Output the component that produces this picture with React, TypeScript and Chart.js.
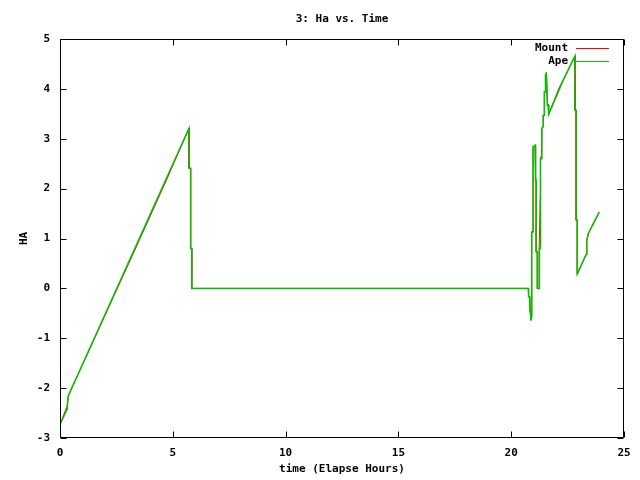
import React, { useEffect, useRef } from "react";
import { Chart, registerables } from "chart.js";

Chart.register(...registerables);

const TITLE = "3: Ha vs. Time";
const X_TITLE = "time (Elapse Hours)";
const Y_TITLE = "HA";
const SERIES_LABELS = ["Mount", "Ape"];
const SERIES_COLORS = ["#ff0000", "#00c000"];

const apeTime = [
  0, 0.3, 0.37, 2.78, 5.72, 5.72, 5.79, 5.79, 5.84, 5.84, 20.76, 20.77, 20.82, 20.83, 20.86, 20.87, 20.91,
  20.91, 20.97, 20.97, 21.06, 21.08, 21.08, 21.11, 21.11, 21.16, 21.16, 21.25, 21.25, 21.3, 21.3, 21.36, 21.36,
  21.42, 21.42, 21.47, 21.47, 21.52, 21.52, 21.56, 21.6, 21.64, 21.66, 22.31, 22.83, 22.83,
  22.88, 22.88, 22.93, 22.93, 23.32, 23.35, 23.42, 23.9,
];
const apeHA = [
  -2.73, -2.44, -2.15, 0.26, 3.21, 2.41, 2.41, 0.8, 0.8, 0, 0, -0.17, -0.17, -0.44, -0.5, -0.64, -0.55,
  1.13, 1.13, 2.84, 2.87, 2.87, 2.17, 2.17, 0.73, 0.73, 0, 0, 0.8, 0.8, 2.6, 2.6, 3.2,
  3.24, 3.47, 3.47, 3.94, 3.94, 4.28, 4.3, 3.67, 3.67, 3.49, 4.18, 4.66, 3.57,
  3.57, 1.37, 1.37, 0.29, 0.68, 0.96, 1.1, 1.53,
];

const mountTime = [
  0, 0.28, 0.3, 0.37, 3.3, 4.7, 5.72, 5.72, 5.79, 5.79, 5.84, 5.84, 20.76, 20.77, 20.82, 20.84, 20.86,
  20.87, 20.91, 20.91, 20.97, 20.97, 21.06, 21.08, 21.08, 21.11, 21.11, 21.16, 21.16, 21.24, 21.24,
  21.29, 21.29, 21.3, 21.34, 21.34, 21.36, 21.42, 21.42, 21.47, 21.47, 21.52, 21.52, 21.56, 21.61,
  21.64, 21.66, 22.12, 22.31, 22.83, 22.83, 22.88, 22.88, 22.93, 22.93, 23.32, 23.35, 23.42, 23.9,
];
const mountHA = [
  -2.73, -2.4, -2.44, -2.15, 0.75, 2.15, 3.21, 2.41, 2.41, 0.8, 0.8, 0, 0, -0.17, -0.17, -0.44, -0.5,
  -0.64, -0.55, 1.13, 1.13, 2.84, 2.87, 2.87, 2.17, 2.17, 0.73, 0.73, 0, 0, 0.82,
  1.87, 2.34, 2.6, 2.67, 3.2, 3.22, 3.24, 3.47, 3.47, 3.94, 3.94, 4.28, 4.33, 3.69,
  3.69, 3.49, 4.02, 4.18, 4.66, 3.57, 3.57, 1.37, 1.37, 0.29, 0.68, 0.96, 1.1, 1.53,
];

const X_MIN = 0;
const X_MAX = 25;
const X_STEP = 5;
const Y_MIN = -3;
const Y_MAX = 5;
const Y_STEP = 1;

const FONT_FAMILY = "'DejaVu Sans Mono', 'Liberation Mono', monospace";
const FONT = { family: FONT_FAMILY, size: 11, weight: "bold" as const };

const frameplugin = {
  id: "gnuplotFrame",
  afterDraw(chart: any) {
    const { ctx, chartArea } = chart;
    const { left, right, top, bottom } = chartArea;
    const xs = chart.scales.x;
    const ys = chart.scales.y;
    ctx.save();
    ctx.strokeStyle = "#000";
    ctx.lineWidth = 1;
    const L = Math.round(left) + 0.5;
    const R = Math.round(right) - 0.5;
    const T = Math.round(top) + 0.5;
    const B = Math.round(bottom) - 0.5;
    ctx.beginPath();
    ctx.rect(L, T, R - L, B - T);
    const tl = 6;
    xs.ticks.forEach((t: any) => {
      const px = Math.round(xs.getPixelForValue(t.value)) + 0.5;
      ctx.moveTo(px, B);
      ctx.lineTo(px, B - tl);
      ctx.moveTo(px, T);
      ctx.lineTo(px, T + tl);
    });
    ys.ticks.forEach((t: any) => {
      const py = Math.round(ys.getPixelForValue(t.value)) + 0.5;
      ctx.moveTo(L, py);
      ctx.lineTo(L + tl, py);
      ctx.moveTo(R, py);
      ctx.lineTo(R - tl, py);
    });
    ctx.stroke();

    // title
    ctx.fillStyle = "#000";
    ctx.font = `bold 11px ${FONT_FAMILY}`;
    ctx.textAlign = "center";
    ctx.textBaseline = "middle";
    ctx.fillText(TITLE, (left + right) / 2, 19);

    // legend (gnuplot style: right-aligned text, then line sample)
    chart.data.datasets.forEach((ds: any, i: number) => {
      const y = 48 + i * 13;
      ctx.textAlign = "right";
      ctx.fillStyle = "#000";
      ctx.fillText(ds.label, 568, y);
      ctx.fillStyle = ds.borderColor;
      ctx.fillRect(576, y, 33, 1);
    });
    ctx.restore();
  },
};

export default function App() {
  const canvasRef = useRef<HTMLCanvasElement | null>(null);

  useEffect(() => {
    document.body.style.margin = "0";
    const canvas = canvasRef.current;
    if (!canvas) return;
    const toPoints = (xs: number[], ys: number[]) => xs.map((x, i) => ({ x, y: ys[i] }));
    const chart = new Chart(canvas, {
      type: "scatter",
      data: {
        datasets: [
          {
            label: SERIES_LABELS[0],
            data: toPoints(mountTime, mountHA),
            showLine: true,
            borderColor: SERIES_COLORS[0],
            backgroundColor: SERIES_COLORS[0],
            borderWidth: 1,
            pointRadius: 0,
            order: 1,
          },
          {
            label: SERIES_LABELS[1],
            data: toPoints(apeTime, apeHA),
            showLine: true,
            borderColor: SERIES_COLORS[1],
            backgroundColor: SERIES_COLORS[1],
            borderWidth: 1.5,
            pointRadius: 0,
            order: 0,
          },
        ],
      },
      options: {
        animation: false,
        responsive: false,
        devicePixelRatio: 1,
        layout: { padding: { top: 39, right: 16, left: 0, bottom: 0 } },
        plugins: {
          legend: { display: false },
          title: { display: false },
          tooltip: { enabled: false },
        },
        scales: {
          x: {
            type: "linear",
            min: X_MIN,
            max: X_MAX,
            ticks: { stepSize: X_STEP, font: FONT, color: "#000", padding: 9, maxRotation: 0 },
            grid: { display: false, drawTicks: false },
            border: { display: false },
            title: {
              display: true,
              text: X_TITLE,
              font: FONT,
              color: "#000",
              padding: { top: 0, bottom: 4 },
            },
            afterFit: (s: any) => {
              s.height = 42;
            },
          },
          y: {
            type: "linear",
            min: Y_MIN,
            max: Y_MAX,
            ticks: { stepSize: Y_STEP, font: FONT, color: "#000", padding: 10 },
            grid: { display: false, drawTicks: false },
            border: { display: false },
            title: {
              display: true,
              text: Y_TITLE,
              font: FONT,
              color: "#000",
              padding: { top: 18, bottom: 0 },
            },
            afterFit: (s: any) => {
              s.width = 60;
            },
          },
        },
      },
      plugins: [frameplugin],
    });
    return () => chart.destroy();
  }, []);

  return (
    <div style={{ position: "absolute", left: 0, top: 0, width: 640, height: 480, background: "#fff" }}>
      <canvas ref={canvasRef} width={640} height={480} style={{ width: 640, height: 480, display: "block" }} />
    </div>
  );
}
